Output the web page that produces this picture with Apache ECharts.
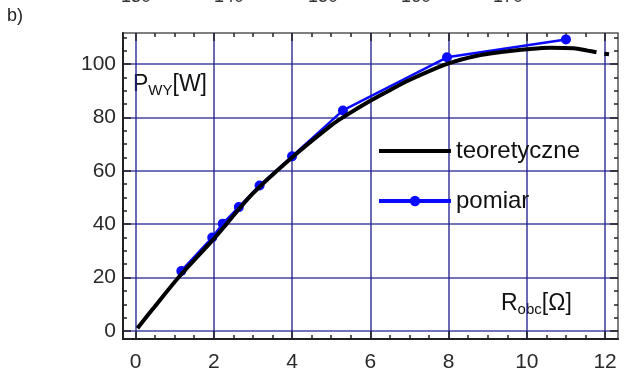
<!DOCTYPE html>
<html>
<head>
<meta charset="utf-8">
<script src="https://cdn.jsdelivr.net/npm/echarts@6/dist/echarts.min.js"></script>
<style>
  html, body { margin: 0; padding: 0; background: #fff; }
  #chart { width: 625px; height: 373px; }
</style>
</head>
<body>
<div id="chart"></div>
<script>
// Theoretical output power curve P_WY(R_obc)
const theoryR = [0.05, 0.44, 1.13, 2.0, 3.0, 4.0, 5.0, 5.3, 6.0, 6.5, 7.0, 8.0, 8.7, 9.3, 10.0, 10.6, 11.2, 11.55, 11.78, null, 11.98, 12.1];
const theoryP = [1.0, 8.2, 20.6, 34.5, 51.5, 65.0, 77.0, 80.0, 86.2, 90.2, 94.0, 100.2, 103.0, 104.4, 105.5, 106.1, 105.9, 105.0, 104.4, null, 103.8, 103.6];

// Measured points
const measR = [1.17, 1.96, 2.23, 2.64, 3.17, 4.0, 5.3, 7.96, 11.0];
const measP = [22.5, 35.0, 40.2, 46.4, 54.5, 65.4, 82.6, 102.5, 109.2];

// Axis ticks
const xMajor = [0, 2, 4, 6, 8, 10, 12];
const xMinor = [0.5, 1, 1.5, 2.5, 3, 3.5, 4.5, 5, 5.5, 6.5, 7, 7.5, 8.5, 9, 9.5, 10.5, 11, 11.5];
const yMajor = [0, 20, 40, 60, 80, 100];
const yMinor = [5, 10, 15, 25, 30, 35, 45, 50, 55, 65, 70, 75, 85, 90, 95, 105, 110];

// Labels of the neighbouring panel above
const topLabels = ['130', '140', '150', '160', '170'];

const X_MIN = -0.32, X_MAX = 12.33, Y_MIN = -3, Y_MAX = 111.6;
const gridColor = 'rgba(35,35,145,0.85)';
const labelFont = 'Liberation Sans, Arial, sans-serif';

function zip(a, b) {
  return a.map((v, i) => (v === null ? [null, null] : [v, b[i]]));
}

function xAxisDef(pos, ticks, len, opts) {
  return Object.assign({
    type: 'value', position: pos, min: X_MIN, max: X_MAX,
    axisLine: { show: false, onZero: false },
    axisTick: { show: true, inside: true, length: len, customValues: ticks, lineStyle: { color: '#222', width: 1.5 } },
    axisLabel: { show: false, customValues: ticks },
    splitLine: { show: false }
  }, opts || {});
}
function yAxisDef(pos, ticks, len, opts) {
  return Object.assign({
    type: 'value', position: pos, min: Y_MIN, max: Y_MAX,
    axisLine: { show: false, onZero: false },
    axisTick: { show: true, inside: true, length: len, customValues: ticks, lineStyle: { color: '#222', width: 1.5 } },
    axisLabel: { show: false, customValues: ticks },
    splitLine: { show: false }
  }, opts || {});
}

const chart = echarts.init(document.getElementById('chart'), null, { renderer: 'canvas' });

const richLabel = {
  a: { fontSize: 23, fontFamily: labelFont, fill: '#111', lineHeight: 27, verticalAlign: 'bottom' },
  s: { fontSize: 15, fontFamily: labelFont, fill: '#111', lineHeight: 27, verticalAlign: 'bottom', padding: [0, 0, -2, 0] }
};

const graphics = [
  { type: 'text', left: 7, top: 7, style: { text: 'b)', font: '18px ' + labelFont, fill: '#222' } },
  { type: 'text', x: 133, y: 83, style: { text: '{a|P}{s|WY}{a|[W]}', verticalAlign: 'middle', rich: richLabel } },
  { type: 'text', x: 501, y: 302, style: { text: '{a|R}{s|obc}{a|[Ω]}', verticalAlign: 'middle', rich: richLabel } }
];
const topX = [136, 229, 323, 416, 508];
topLabels.forEach((t, i) => {
  graphics.push({ type: 'text', x: topX[i], y: -3, style: { text: t, font: '18px ' + labelFont, fill: '#333', align: 'center', verticalAlign: 'middle' } });
});

chart.setOption({
  animation: false,
  backgroundColor: '#ffffff',
  grid: { left: 123, right: 7, top: 33, bottom: 33, show: true, borderColor: '#555', borderWidth: 1.5, backgroundColor: 'transparent' },
  legend: {
    orient: 'vertical', left: 377, top: 139, padding: 0,
    itemWidth: 72, itemHeight: 13, itemGap: 26,
    textStyle: { fontSize: 24, fontFamily: labelFont, color: '#111', padding: [0, 0, 0, 0] },
    data: [
      { name: 'teoretyczne', icon: 'path://M0,0H72V4H0Z' },
      { name: 'pomiar', lineStyle: { width: 4 } }
    ]
  },
  xAxis: [
    xAxisDef('bottom', xMajor, 8, {
      axisLine: { show: true, onZero: false, lineStyle: { color: '#222', width: 2 } },
      axisLabel: { show: true, customValues: xMajor, fontSize: 21, fontFamily: labelFont, color: '#2a2a2a', margin: 13 },
      splitLine: { show: true, lineStyle: { color: gridColor, width: 1.6 } }
    }),
    xAxisDef('bottom', xMinor, 4),
    xAxisDef('top', xMajor, 8),
    xAxisDef('top', xMinor, 4)
  ],
  yAxis: [
    yAxisDef('left', yMajor, 8, {
      axisLine: { show: true, onZero: false, lineStyle: { color: '#222', width: 2 } },
      axisLabel: { show: true, customValues: yMajor, fontSize: 21, fontFamily: labelFont, color: '#2a2a2a', margin: 7 },
      splitLine: { show: true, lineStyle: { color: gridColor, width: 1.6 } }
    }),
    yAxisDef('left', yMinor, 4),
    yAxisDef('right', yMajor, 8),
    yAxisDef('right', yMinor, 4)
  ],
  series: [
    {
      name: 'pomiar', type: 'line', xAxisIndex: 0, yAxisIndex: 0,
      data: zip(measR, measP),
      symbol: 'circle', symbolSize: 10,
      itemStyle: { color: '#0a0aff' },
      lineStyle: { color: '#0a0aff', width: 2.5 },
      z: 2
    },
    {
      name: 'teoretyczne', type: 'line', xAxisIndex: 0, yAxisIndex: 0,
      data: zip(theoryR, theoryP),
      showSymbol: false, symbol: 'none', smooth: 0.3, connectNulls: false,
      itemStyle: { color: '#000' },
      lineStyle: { color: '#000', width: 4 },
      z: 3
    }
  ],
  graphic: graphics
});
</script>
</body>
</html>
